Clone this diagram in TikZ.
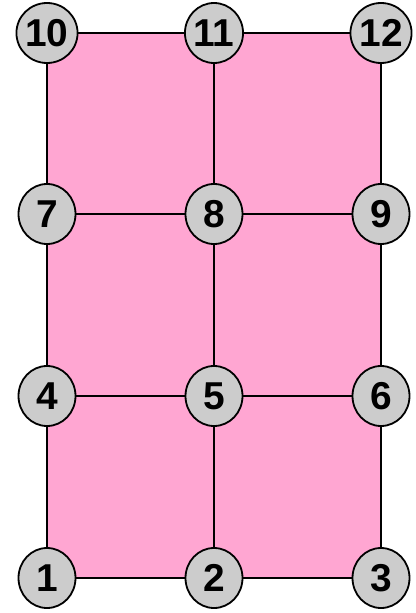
\documentclass[tikz,border=0pt]{standalone}
\usepackage{fontspec}
\setmainfont{Liberation Sans}
\usetikzlibrary{shapes.geometric}
\definecolor{pinkfill}{HTML}{FFA6D2}
\definecolor{nodegray}{HTML}{CCCCCC}
\newcommand{\vlab}[1]{\raisebox{-2.5bp}{#1}}
\begin{document}
\begin{tikzpicture}[x=1bp,y=-1bp,
  vtx/.style={ellipse,draw=black,line width=1.8bp,fill=nodegray,minimum width=57bp,minimum height=60bp,inner sep=0pt,font=\fontsize{39}{39}\selectfont\bfseries},
  edge/.style={line width=1.8bp,draw=black}]
\useasboundingbox (0,0) rectangle (415,613);
\fill[pinkfill] (47,33) rectangle (381,577);
\node[vtx] (n1) at (47,578) {\vlab{1}};
\node[vtx] (n2) at (214,578) {\vlab{2}};
\node[vtx] (n3) at (381,578) {\vlab{3}};
\node[vtx] (n4) at (47,396) {\vlab{4}};
\node[vtx] (n5) at (214,396) {\vlab{5}};
\node[vtx] (n6) at (381,396) {\vlab{6}};
\node[vtx] (n7) at (47,214) {\vlab{7}};
\node[vtx] (n8) at (214,214) {\vlab{8}};
\node[vtx] (n9) at (381,214) {\vlab{9}};
\node[vtx] (n10) at (47,33) {\vlab{10}};
\node[vtx] (n11) at (214,33) {\vlab{11}};
\node[vtx] (n12) at (381,33) {\vlab{12}};
\foreach \a/\b in {n1/n2,n2/n3,n4/n5,n5/n6,n7/n8,n8/n9,n10/n11,n11/n12,n1/n4,n4/n7,n7/n10,n2/n5,n5/n8,n8/n11,n3/n6,n6/n9,n9/n12}
  \draw[edge] (\a) -- (\b);
\end{tikzpicture}
\end{document}
